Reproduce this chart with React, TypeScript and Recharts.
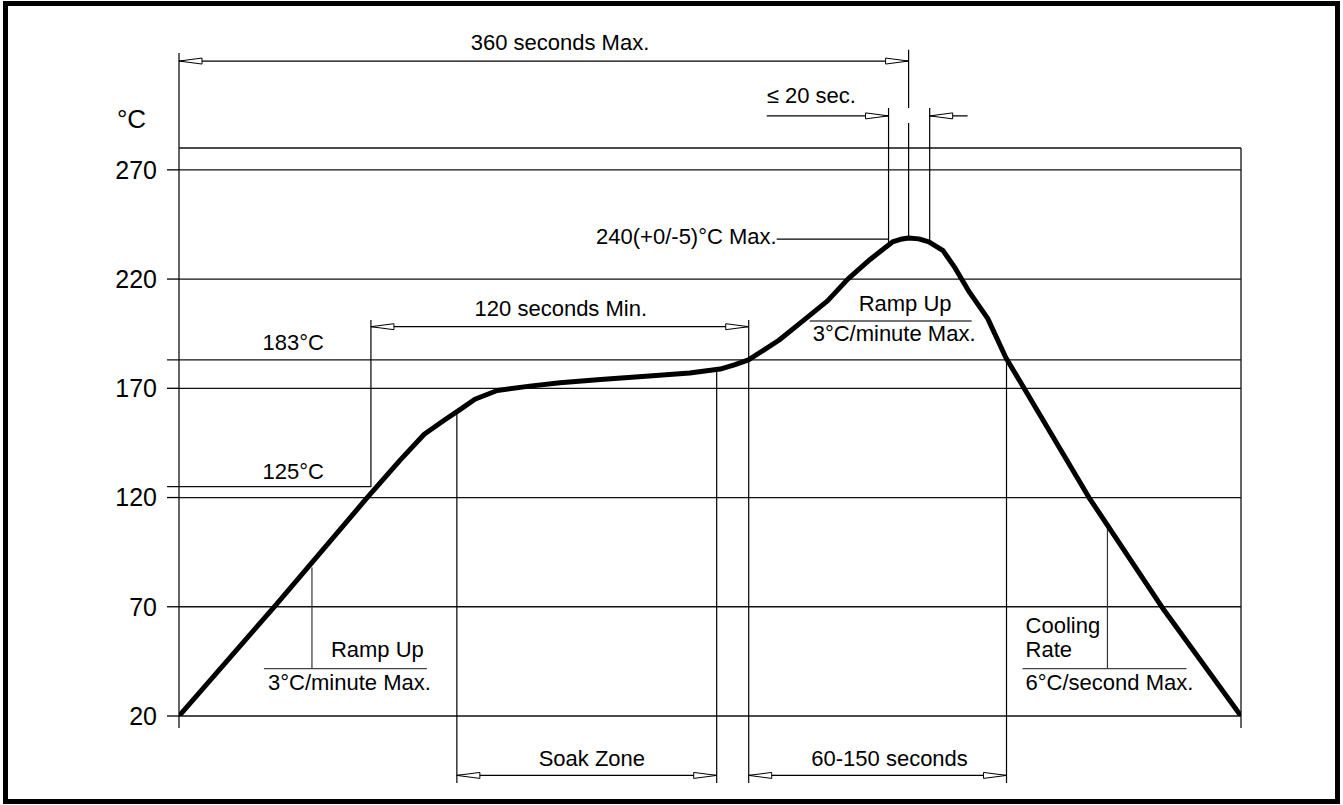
import React from 'react';
import { ComposedChart, Line, XAxis, YAxis, ReferenceLine, ReferenceDot } from 'recharts';

// Reflow profile: time (seconds) vs temperature (°C)
const timeSec = [0, 47, 92, 109, 121, 131, 139, 146, 157, 173, 188, 208, 232, 252, 267, 274, 281, 296, 308, 320, 330, 341, 352, 356, 360, 365, 370, 377, 383, 390, 399, 408, 449, 486, 524];
const tempC = [20, 70, 119, 137, 149, 155.5, 160.5, 165, 169, 171, 172.5, 174, 175.6, 177, 178.8, 180.7, 183, 192, 201, 210, 220, 229, 237, 238.2, 238.8, 238.4, 237, 233, 225, 214, 202, 184, 120, 68.5, 20];
const yTicks = [20, 70, 120, 170, 220, 270];
const yDomain = [20, 280];
const xDomain = [0, 524];

const data = timeSec.map((t, i) => ({ t, temp: tempC[i] }));

const FONT = 'Liberation Sans, Arial, Helvetica, sans-serif';

const arrowPoly = (tx: number, ty: number, dir: number) =>
  `${tx},${ty} ${tx - dir * 23},${ty - 3} ${tx - dir * 23},${ty + 3}`;

const dimShape = (start: boolean, end: boolean, sw = 1.2) => (p: any) => {
  const { x1, y1, x2, y2 } = p;
  const d = Math.sign(x2 - x1) || 1;
  return (
    <g>
      <line x1={x1} y1={y1} x2={x2} y2={y2} stroke="#000" strokeWidth={sw} />
      {start && <polygon points={arrowPoly(x1, y1, -d)} fill="#fff" stroke="#000" strokeWidth={1} />}
      {end && <polygon points={arrowPoly(x2, y2, d)} fill="#fff" stroke="#000" strokeWidth={1} />}
    </g>
  );
};

const plainLine = (sw = 1.2, color = '#000') => (p: any) => (
  <line x1={p.x1} y1={p.y1} x2={p.x2} y2={p.y2} stroke={color} strokeWidth={sw} />
);

const textShape = (label: string, anchor: 'start' | 'middle' | 'end', size = 22) => (p: any) => (
  <text x={p.cx} y={p.cy} textAnchor={anchor} fontSize={size} fontFamily={FONT} fill="#000">
    {label}
  </text>
);

type Seg = [number, number, number, number];

const seg = (s: Seg, shape: any, key: string) => (
  <ReferenceLine
    key={key}
    segment={[{ x: s[0], y: s[1] }, { x: s[2], y: s[3] }]}
    ifOverflow="visible"
    shape={shape}
  />
);

const txt = (x: number, y: number, label: string, anchor: 'start' | 'middle' | 'end', key: string, size = 22) => (
  <ReferenceDot key={key} x={x} y={y} r={0} ifOverflow="visible" shape={textShape(label, anchor, size)} />
);

export default function App() {
  return (
    <div style={{ position: 'absolute', left: 0, top: 0, width: 1343, height: 805, background: '#fff' }}>
      <div
        style={{
          position: 'absolute',
          left: 3,
          top: 1,
          width: 1337,
          height: 803,
          border: '5px solid #000',
          boxSizing: 'border-box',
        }}
      />
      <div style={{ position: 'absolute', left: 0, top: 0 }}>
        <ComposedChart
          width={1343}
          height={805}
          data={data}
          margin={{ top: 148, right: 102, bottom: 89, left: 119 }}
        >
          <XAxis dataKey="t" type="number" domain={xDomain} hide allowDataOverflow />
          <YAxis
            type="number"
            domain={yDomain}
            ticks={yTicks}
            allowDataOverflow
            width={60}
            axisLine={false}
            tickLine={{ stroke: '#000', strokeWidth: 1.3 }}
            tickSize={12}
            tickMargin={10}
            tick={{ fill: '#000', fontSize: 25, fontFamily: FONT }}
          />

          {/* grid / frame lines */}
          {yTicks.map((v) => (
            <ReferenceLine key={'g' + v} y={v} ifOverflow="visible" shape={plainLine(1.3, '#111')} />
          ))}
          {seg([0, 280, 524, 280], plainLine(1.3, '#111'), 'top')}
          {seg([524, 280, 524, 14.5], plainLine(1.3, '#111'), 'right')}
          {seg([0, 323.5, 0, 14.5], plainLine(1.3, '#111'), 'left')}
          {seg([-5.9, 183, 524, 183], plainLine(1.3, '#111'), 'l183')}
          {seg([-5.9, 125, 94.7, 125], plainLine(1.3, '#111'), 'l125')}

          {/* 360 seconds Max. */}
          {seg([0, 319.8, 360, 319.8], dimShape(true, true), 'd360')}
          {seg([360, 325, 360, 298.3], plainLine(1.2), 'v360a')}
          {txt(188, 324.9, '360 seconds Max.', 'middle', 't360')}

          {/* <= 20 sec */}
          {seg([290, 294.7, 350.1, 294.7], dimShape(false, true), 'd20a')}
          {seg([389.1, 294.7, 370.4, 294.7], dimShape(false, true), 'd20b')}
          {seg([350.1, 298.3, 350.1, 237], plainLine(1.2), 'v20a')}
          {seg([370.4, 298.3, 370.4, 237], plainLine(1.2), 'v20b')}
          {seg([360, 291.4, 360, 238.5], plainLine(1.2), 'v360b')}
          {txt(290, 300.6, '≤ 20 sec.', 'start', 't20')}

          {/* peak label */}
          {seg([294.9, 238.3, 350.1, 238.3], plainLine(1.2), 'lead240')}
          {txt(294.9, 236.1, '240(+0/-5)°C Max.', 'end', 't240')}

          {/* 120 seconds Min. */}
          {seg([94.7, 124.8, 94.7, 201.3], plainLine(1.2), 'v125')}
          {seg([94.7, 198.2, 281.1, 198.2], dimShape(true, true), 'd120')}
          {txt(188.4, 203.2, '120 seconds Min.', 'middle', 't120')}

          {/* Soak zone and 60-150 seconds */}
          {seg([137.1, 160, 137.1, -10.7], plainLine(1.2), 'vs1')}
          {seg([265.3, 178, 265.3, -10.7], plainLine(1.2), 'vs2')}
          {seg([281.1, 201.3, 281.1, -10.7], plainLine(1.2), 'vs3')}
          {seg([408.3, 183, 408.3, -10.7], plainLine(1.2), 'vs4')}
          {seg([137.1, -7.2, 265.3, -7.2], dimShape(true, true), 'dsoak')}
          {seg([281.1, -7.2, 408.3, -7.2], dimShape(true, true), 'd60')}
          {txt(203.7, -3.0, 'Soak Zone', 'middle', 'tsoak')}
          {txt(350.6, -3.0, '60-150 seconds', 'middle', 't60')}

          {/* Ramp up (left) */}
          {seg([41.9, 41.7, 122.3, 41.7], plainLine(1.3, '#444'), 'sepL')}
          {seg([65.6, 41.7, 65.6, 88], plainLine(1.2, '#333'), 'vL')}
          {txt(120.8, 47.0, 'Ramp Up', 'end', 'tRL')}
          {txt(43.9, 31.9, '3°C/minute Max.', 'start', 'tRL2')}

          {/* Ramp up (right) */}
          {seg([311.2, 200.8, 391.1, 200.8], plainLine(1.3, '#444'), 'sepR')}
          {txt(381.2, 205.5, 'Ramp Up', 'end', 'tRR')}
          {txt(393.0, 191.7, '3°C/minute Max.', 'end', 'tRR2')}

          {/* Cooling */}
          {seg([416.2, 41.7, 497.1, 41.7], plainLine(1.3, '#444'), 'sepC')}
          {seg([458.1, 41.7, 458.1, 106], plainLine(1.2, '#333'), 'vC')}
          {txt(417.7, 58.0, 'Cooling', 'start', 'tC1')}
          {txt(417.7, 47.0, 'Rate', 'start', 'tC2')}
          {txt(417.7, 31.9, '6°C/second Max.', 'start', 'tC3')}

          {/* level labels */}
          {txt(41.2, 187.5, '183°C', 'start', 't183')}
          {txt(41.2, 128.5, '125°C', 'start', 't125')}
          {txt(-30.6, 289.2, '°C', 'start', 'tunit', 26)}

          <Line
            type="linear"
            dataKey="temp"
            stroke="#000"
            strokeWidth={5}
            strokeLinejoin="round"
            dot={false}
            activeDot={false}
            isAnimationActive={false}
          />
        </ComposedChart>
      </div>
    </div>
  );
}
